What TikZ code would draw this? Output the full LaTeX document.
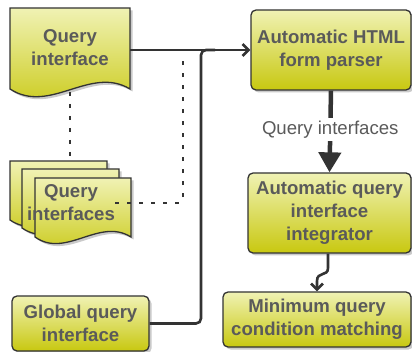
\documentclass[tikz,border=0pt]{standalone}
\usepackage{fontspec}
\setmainfont{Liberation Sans}
\usetikzlibrary{arrows.meta,shadows,positioning}
\definecolor{boxtop}{HTML}{F0F2B4}
\definecolor{boxbot}{HTML}{C8C810}
\definecolor{txt}{HTML}{5A5A5A}
\definecolor{edge}{HTML}{333333}
\tikzset{
  boxfill/.style={top color=boxtop, bottom color=boxbot, draw=edge, line width=1.3pt,
    drop shadow={shadow xshift=2.5pt, shadow yshift=-2.5pt, fill=black!35, opacity=0.6}},
  procbox/.style={boxfill, rounded corners=5pt, font=\fontsize{18.6}{23}\selectfont\bfseries,
    text=txt, align=center, inner sep=0pt},
  lbl/.style={font=\fontsize{18.6}{23}\selectfont\bfseries, text=txt, align=center},
  conn/.style={draw=edge, line width=2.6pt},
  dotconn/.style={draw=edge, line width=2.6pt, dash pattern=on 4pt off 8pt},
}
\begin{document}
\begin{tikzpicture}[x=1pt,y=-1pt]
\useasboundingbox (0,0) rectangle (412,352);
% process boxes
\node[procbox, minimum width=160pt, minimum height=80pt] (parser) at (331,50) {Automatic HTML\\form parser};
\node[procbox, minimum width=163pt, minimum height=80pt] (integ) at (329.5,213) {Automatic query\\interface\\integrator};
\node[procbox, minimum width=188pt, minimum height=55pt] (minq) at (317,319.5) {Minimum query\\condition matching};
\node[procbox, minimum width=137pt, minimum height=55pt] (glob) at (80.5,323.5) {Global query\\interface};
% single document
\path[boxfill] (10,8) -- (130,8) -- (130,89) .. controls (90,65) and (50,115) .. (10,89) -- cycle;
\node[lbl] (qi) at (70,48) {Query\\interface};
\coordinate (qibot) at (70,92);
\coordinate (qiright) at (130,50);
% stacked documents
\path[boxfill] (10,161) -- (107,161) -- (107,220) .. controls (75,200) and (42,242) .. (10,220) -- cycle;
\path[boxfill] (22,169) -- (119,169) -- (119,228) .. controls (87,208) and (54,250) .. (22,228) -- cycle;
\path[boxfill] (35,178) -- (131,178) -- (131,237) .. controls (99,217) and (66,259) .. (35,237) -- cycle;
\node[lbl] (qis) at (71,203) {Query\\interfaces};
\coordinate (stacktop) at (70,161);
\coordinate (dotstart) at (115,203);
\coordinate (dotcorner) at (183,203);
\coordinate (dotend) at (183,54);
\coordinate (solidcorner) at (201,50);
% connectors
\draw[dotconn] (qibot) -- (stacktop);
\draw[dotconn, rounded corners=4pt] (dotstart) -- (dotcorner) -- (dotend);
\draw[conn, -{Straight Barb[length=6pt,width=12pt]}] (qiright) -- (parser.west);
\draw[conn, rounded corners=5pt] (glob.east) -| (solidcorner) -- (215,50);
\draw[draw=edge, line width=4.5pt, -{Triangle[length=20pt,width=22pt]}] (parser.south) -- (integ.north)
  node[midway, yshift=2pt, fill=white, inner sep=3pt, text=txt, font=\fontsize{18.6}{23}\selectfont] {Query interfaces};
\draw[conn, -{Straight Barb[length=6pt,width=12pt]}] (integ.south -| 328,0) -- (328,268) .. controls (328,277) and (317,271) .. (317,281) -- (minq.north -| 317,0);
\end{tikzpicture}
\end{document}
